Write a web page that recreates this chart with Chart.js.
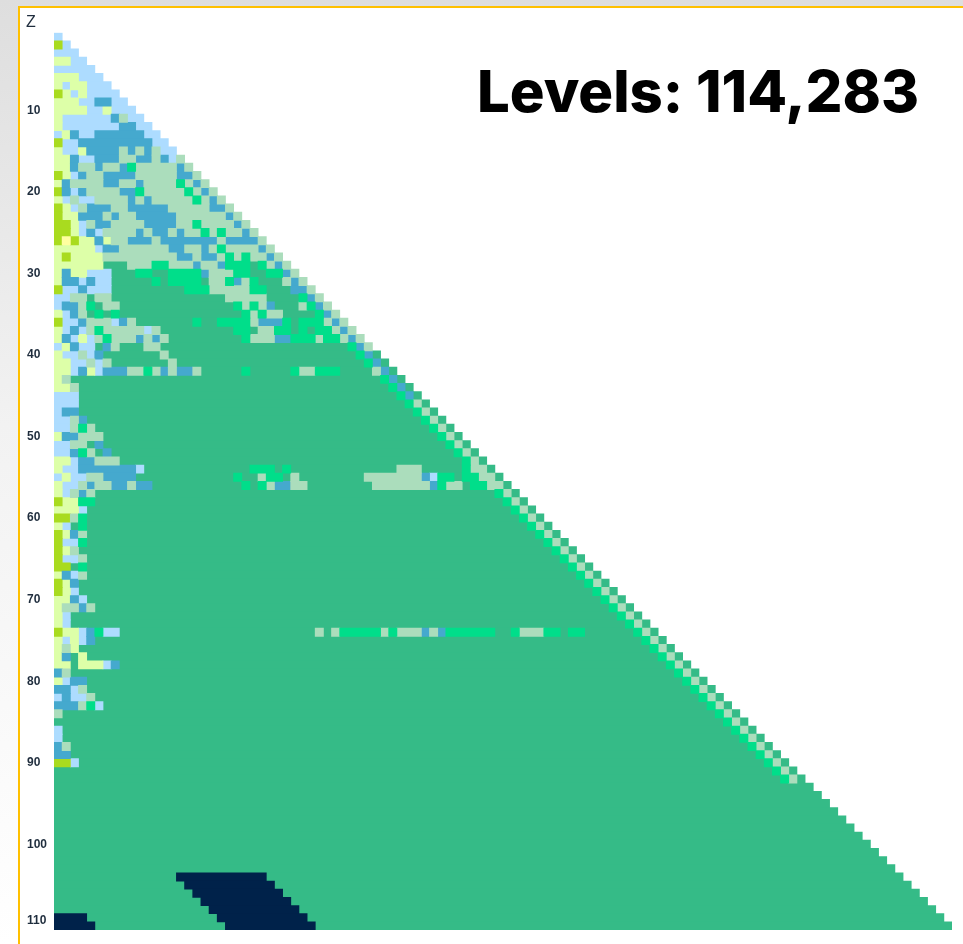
<!DOCTYPE html>
<html>
<head>
<meta charset="utf-8">
<style>
  html, body { margin: 0; padding: 0; width: 963px; height: 944px; overflow: hidden; background: linear-gradient(180deg, #dedede 0, #f2f2f2 45%, #ffffff 100%); }
  #frame { position: absolute; left: 18px; top: 6px; width: 1000px; height: 1000px; box-sizing: border-box; border: 2px solid #FFC000; background: #fff; }
  canvas { position: absolute; left: 0; top: 0; }
  #title { position: absolute; left: 477px; top: 55px; font: 800 58px "Inter", sans-serif; color: #000; white-space: nowrap; line-height: 72px; }
  #zlabel { position: absolute; left: 26px; top: 14px; font: 16px "Liberation Sans", sans-serif; color: #1f2d3d; line-height: 16px; }
</style>
<script src="https://cdn.jsdelivr.net/npm/chart.js@4"></script>
</head>
<body>
<div id="frame"></div>
<canvas id="c" width="963" height="944"></canvas>
<div id="zlabel">Z</div>
<div id="title">Levels: 114,283</div>
<script>
const columnCount = 110;
const zTickValues = [10, 20, 30, 40, 50, 60, 70, 80, 90, 100, 109.4];
const zTickLabels = ['10', '20', '30', '40', '50', '60', '70', '80', '90', '100', '110'];
const categoryKeys = ['N', 'T', 'P', 'B', 'W', 'K', 'Y', 'L', 'M'];
const categoryColours = ['#00224A', '#00DE8A', '#ABDDBC', '#45A9CE', '#FFFFA0', '#A9DB1F', '#DDFFA8', '#ADDCFF', '#35BB87'];
// One entry per Z (row): "<first column><category>", each run lasts until the next one or the row's end (Z columns).
const rowRuns = [
'0L','0K 1L','0L','0Y 2L','0L','0Y 3L','0Y 1L 2Y 4L','0K 1Y 2L 3Y 4L','0Y 3L 5B 7L','0Y 4L 6Y 7L',
'0Y 1L 7B 8P 9L','0Y 1L 8B 10L','0L 1Y 2B 3L 5B 11L','0K 1L 3B 12L',
'0Y 1L 3Y 4B 8P 9B 10P 11B 12P 13L','0Y 2B 3L 5B 8P 10B 12P 13B 14L 15P',
'0Y 2B 3P 5B 6P 8B 9T 10P 15B 16P','0K 1Y 2L 3B 4P 6B 10P 15B 17P',
'0Y 1B 2P 6B 8P 10B 11P 15T 16P 17B 18P','0K 1B 2L 3B 4P 8B 10T 11P 16T 17P 18B 19P',
'0Y 1L 2P 3L 5P 9B 10P 11B 12P 17T 18P 19B 20P','0K 1Y 2L 3P 4B 7P 9B 14P 19B 21P',
'0K 1Y 3B 6P 7B 8P 10B 15P 21B 22P','0K 2Y 3L 4P 5B 7P 11B 15P 17T 18P 22B 23P',
'0K 2Y 3L 4B 5L 6P 10B 11P 12B 14P 15B 16P 18T 19P 20T 21P 23B 24P',
'0K 1W 2K 3Y 5B 6Y 7P 9B 12P 13B 20P 21B 25P','0Y 5L 6B 8P 14B 16P 18B 19P 20T 21P 25B 26P',
'0Y 1K 2Y 6P 15B 17P 18B 20P 21T 22P 23T 24P 26B 27P',
'0Y 6M 9P 12T 14P 17B 18P 20B 21T 24M 25T 26P 27B 28P',
'0Y 1B 2Y 4L 7M 10T 12M 14T 18B 19P 22T 24M 26T 28B 29P',
'0Y 1B 3L 4B 5L 7M 12T 13M 14T 18M 19P 21T 22B 23P 24T 25M 28P 29B 30P',
'0K 1L 3B 4L 7M 16T 19P 24T 26M 29B 31P','0L 2P 4M 5P 7M 21P 26M 30T 31B 32P',
'0L 1B 3P 4T 5M 6P 8M 22T 23P 24T 25P 26B 27M 30P 31T 32B 33P',
'0Y 1L 2B 3P 4M 5T 6M 7T 8M 23T 24P 25T 26P 28M 32T 33B 34P',
'0K 1L 3B 4P 7L 8B 9P 10M 17T 18M 20T 24P 25B 28T 29M 30T 33P 34B 35P',
'0Y 1L 2B 3L 4P 5T 6P 11L 12P 13M 22T 24M 25P 27T 29M 30T 31M 32T 34P 35B 36P',
'0Y 1B 2L 3Y 4L 5P 6T 7P 10B 11P 12B 13P 14M 23T 24P 27B 29T 32P 33T 35P 36B 37P',
'0L 1Y 2B 3L 5M 6B 7P 8M 11P 13M 36T 37B 38P','0Y 1L 3P 4L 5B 6M 13P 14M 37T 38B 39M',
'0Y 2L 4P 5L 6P 7M 14P 15M 38T 39B 40M',
'0Y 2L 3B 4Y 5L 6B 9P 11T 12P 13B 14P 15B 17P 18M 23T 24M 29T 30P 32T 35M 39P 40B 41M',
'0Y 1P 2M 40T 41B 42M','0Y 2P 3M 41T 42B 43M','0L 3M 42T 43B 44M','0L 3M 43T 44P 45M',
'0L 1B 3M 44T 45P 46M','0L 2P 3B 4M 45T 46P 47M','0L 2P 3T 4P 5M 46T 47P 48M','0Y 1B 3P 6M 47T 48P 49M',
'0L 2P 4M 5B 6M 48T 49P 50M','0L 2B 3T 4P 5M 6B 7M 49T 50P 51M','0Y 2L 3B 5P 8M 50T 51P 52M',
'0Y 1L 3B 10L 11M 24T 27M 28T 29M 42P 45M 50T 51P 53M',
'0L 1Y 2L 4P 6B 10M 22T 23M 25P 26T 28M 29P 30M 38P 45B 46L 47T 49M 50T 52P 54M',
'0Y 1L 3P 4B 5P 7B 9P 10B 12M 23T 24M 25T 26P 27B 29P 31M 39P 46B 47T 48P 50M 51T 53P 55M',
'0Y 1L 2P 3B 4P 5M 54T 55P 56M','0K 1Y 3T 5M 55T 56P 57M','0Y 3L 4M 56T 57P 58M','0K 2P 3T 4M 57T 58P 59M',
'0Y 1L 2M 3T 4M 58T 59P 60M','0K 1Y 2B 3P 4M 59T 60P 61M','0K 1L 3T 4M 60T 61P 62M','0K 1Y 2P 3M 61T 62P 63M',
'0K 1L 3P 4M 62T 63P 64M','0K 2M 3T 4M 63T 64P 65M','0Y 1B 2L 3P 4M 64T 65P 66M','0K 1Y 2B 3M 65T 66P 67M',
'0K 1Y 2L 3M 66T 67P 68M','0Y 2B 3L 4M 67T 68P 69M','0Y 1P 3B 4P 5M 68T 69P 70M','0Y 1L 2M 69T 70P 71M',
'0Y 1L 2M 70T 71P 72M',
'0K 1Y 3L 4B 5T 6L 8M 32P 33M 34P 35T 40P 41T 42P 45B 46P 47B 48T 54M 56T 57P 60T 62M 63T 65M 71T 72P 73M',
'0Y 1L 2Y 3L 4B 5M 72T 73P 74M','0Y 1P 2Y 3M 73T 74P 75M','0Y 1B 2M 3Y 4M 74T 75P 76M',
'0Y 2M 3Y 6L 7B 8M 75T 76P 77M','0B 1P 2M 76T 77P 78M','0Y 1L 2B 4M 77T 78P 79M','0B 2L 3P 4M 78T 79P 80M',
'0L 1B 2L 4P 5M 79T 80P 81M','0B 3P 4T 5L 6M 80T 81P 82M','0P 1M 81T 82P 83M','0M 82T 83P 84M',
'0L 1M 83T 84P 85M','0L 1M 84T 85P 86M','0B 1P 2M 85T 86P 87M','0B 2M 86T 87P 88M','0K 2L 3M 87T 88P 89M',
'0M 88T 89P 90M','0M 89T 90P 91M',
'0M','0M','0M','0M','0M','0M','0M','0M','0M','0M','0M',
'0M 15N 26M','0M 16N 27M','0M 17N 28M','0M 18N 29M','0M 19N 30M','0N 4M 20N 31M','0N 5M 21N 32M'
];

const datasets = categoryKeys.map((key, i) => ({
  label: key,
  data: [],
  backgroundColor: categoryColours[i],
  borderWidth: 0,
  grouped: false,
  categoryPercentage: 1,
  barPercentage: 1,
  inflateAmount: 0.4
}));
rowRuns.forEach((row, r) => {
  const z = r + 1;
  const runs = row.split(' ');
  runs.forEach((run, j) => {
    const start = parseInt(run, 10);
    const key = run.slice(-1);
    const end = j + 1 < runs.length ? parseInt(runs[j + 1], 10) : z;
    datasets[categoryKeys.indexOf(key)].data.push({ x: [start, end], y: z });
  });
});

new Chart(document.getElementById('c'), {
  type: 'bar',
  data: { datasets },
  options: {
    indexAxis: 'y',
    responsive: false,
    animation: false,
    events: [],
    layout: { padding: { left: 27, right: 11, top: 32.7, bottom: 14 } },
    plugins: { legend: { display: false }, title: { display: false }, tooltip: { enabled: false } },
    scales: {
      x: { type: 'linear', min: 0, max: columnCount, display: false, grid: { display: false } },
      y: {
        type: 'linear',
        offset: false,
        reverse: true,
        min: 0.5,
        max: rowRuns.length + 0.5,
        grid: { display: false, offset: false },
        border: { display: false },
        afterFit: s => { s.width = 27; },
        afterBuildTicks: s => { s.ticks = zTickValues.map(value => ({ value })); },
        ticks: {
          autoSkip: false,
          crossAlign: 'far',
          padding: 0,
          color: '#1f2d3d',
          font: { family: '"Liberation Sans", Arial, sans-serif', size: 12, weight: 'bold' },
          callback: v => zTickLabels[zTickValues.indexOf(v)]
        }
      }
    }
  }
});
</script>
</body>
</html>
